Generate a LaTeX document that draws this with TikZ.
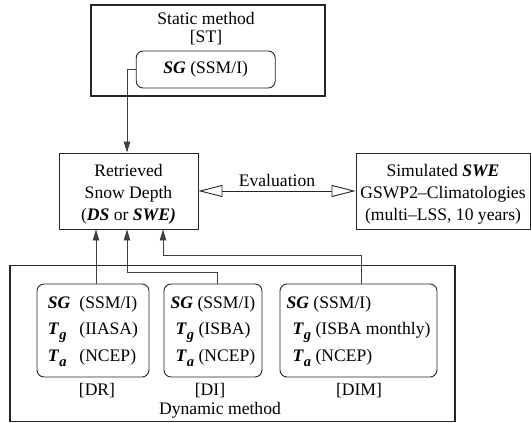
\documentclass[tikz,border=0pt]{standalone}
\usepackage{fontspec}
\setmainfont{Liberation Serif}
\usetikzlibrary{arrows.meta}
\newcommand{\bi}[1]{\textbf{\textit{#1}}}
\newcommand{\Tsub}[1]{\bi{T}\raisebox{-5pt}{\fontsize{14.5}{14.5}\selectfont\bi{#1}}}
\begin{document}
\begin{tikzpicture}[x=1pt,y=-1pt,
  every node/.style={font=\fontsize{17.6pt}{22pt}\selectfont, inner sep=0pt},
  outerbox/.style={draw=black!85, line width=1.6pt, rectangle},
  plainbox/.style={draw=black!85, line width=0.9pt, rectangle, align=center},
  roundbox/.style={draw=black!85, line width=0.9pt, rectangle, rounded corners=7pt},
  conn/.style={draw=black!75, line width=0.8pt},
  arr/.style={conn, -{Triangle[length=11pt,width=6.5pt]}},
  evalarr/.style={draw=black!85, line width=0.9pt, {Triangle[open,length=24pt,width=12pt]}-{Triangle[open,length=24pt,width=12pt]}}
]
\useasboundingbox (0,0) rectangle (531,423);

% static method
\node[outerbox, minimum width=234pt, minimum height=91pt] (ST) at (208,50.5) {};
\node[anchor=base] (sttitle) at (206,24) {Static method};
\node[anchor=base] (stlabel) at (206,42.5) {[ST]};
\node[roundbox, minimum width=139pt, minimum height=37pt] (SGst) at (205.7,69.5) {\bi{SG} (SSM/I)};

% retrieved
\node[plainbox, minimum width=139pt, minimum height=76pt] (Ret) at (128.5,191) {};
\node[align=center] (rettext) at (128.5,194) {Retrieved\\Snow Depth\\(\bi{DS} or \bi{SWE)}};

% simulated
\node[plainbox, minimum width=174pt, minimum height=76pt] (Sim) at (443,191) {};
\node[align=center] (simtext) at (443,194) {Simulated \bi{SWE}\\GSWP2–Climatologies\\(multi–LSS, 10 years)};

% evaluation
\draw[evalarr] (Ret.east) -- (Sim.west);
\node[anchor=base] (evallabel) at (277,186) {Evaluation};

% dynamic method
\node[outerbox, minimum width=445pt, minimum height=156pt] (DYN) at (232.5,343.5) {};
\node[roundbox, minimum width=112pt, minimum height=93pt] (DR) at (93,330.5)
  {\begin{tabular}{@{}l@{\hspace{9pt}}l@{}}\bi{SG} & (SSM/I)\\[4.5pt] \Tsub{g} & (IIASA)\\[4.5pt] \Tsub{a} & (NCEP)\end{tabular}};
\node[roundbox, minimum width=98pt, minimum height=93pt] (DI) at (213,330.5)
  {\begin{tabular}{@{}l@{}}\bi{SG} (SSM/I)\\[4.5pt] \hspace{5pt}\Tsub{g} (ISBA)\\[4.5pt] \hspace{5pt}\Tsub{a} (NCEP)\end{tabular}};
\node[roundbox, minimum width=157pt, minimum height=93pt] (DIM) at (358.5,330.5)
  {\begin{tabular}{@{}l@{}}\bi{SG} (SSM/I)\\[4.5pt] \hspace{6pt}\Tsub{g} (ISBA monthly)\\[4.5pt] \hspace{6pt}\Tsub{a} (NCEP)\end{tabular}};
\node[anchor=base] (drl) at (97,395) {[DR]};
\node[anchor=base] (dil) at (210,395) {[DI]};
\node[anchor=base] (diml) at (359,395) {[DIM]};
\node[anchor=base] (dynl) at (220,414) {Dynamic method};

% connectors
\draw[arr] (SGst.west) -| ([xshift=-1.5pt]Ret.north);
\draw[arr] (DR.north -| 96,0) -- (Ret.south -| 96,0);
\draw[arr] ([xshift=4pt]DI.north) -- ++(0,-11) -| ([xshift=-1.5pt]Ret.south);
\draw[arr] ([xshift=2.5pt]DIM.north) -- ++(0,-28) -| ([xshift=34.5pt]Ret.south);
\end{tikzpicture}
\end{document}
